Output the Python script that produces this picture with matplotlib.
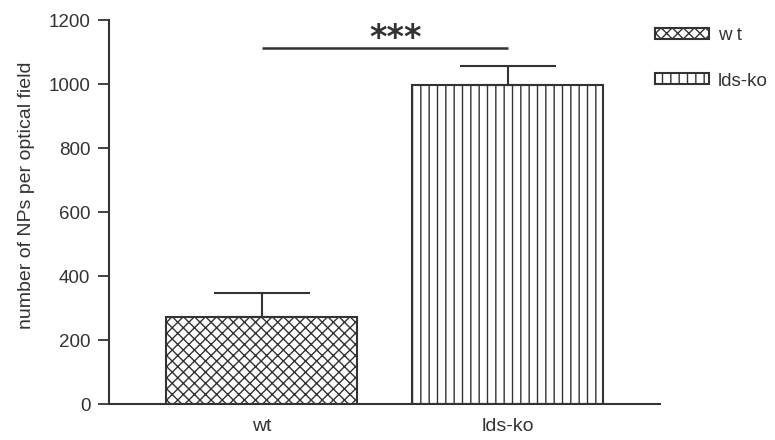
import matplotlib.pyplot as plt

# data
groups = ['wt', 'lds-ko']
legend_labels = ['w t', 'lds-ko']
means = [272, 997]
sem_upper = [75, 59]
sig_level = 1112
sig_text = '***'
y_ticks = [0, 200, 400, 600, 800, 1000, 1200]

INK = '#333333'

plt.rcParams['font.family'] = ['Liberation Sans', 'DejaVu Sans']
plt.rcParams['hatch.linewidth'] = 1.0
plt.rcParams['hatch.color'] = INK

fig = plt.figure(figsize=(7.75, 4.4), dpi=100)
ax = fig.add_axes([109 / 775, 1 - 404 / 440, (660 - 109) / 775, 384 / 440])

x = list(range(len(groups)))
hatches = ['xxx', '||']
bars = ax.bar(x, means, width=0.775, color='white', edgecolor=INK,
              linewidth=1.5, zorder=2)
for b, h, lab in zip(bars, hatches, legend_labels):
    b.set_hatch(h)
    b.set_label(lab)

# only the upper half of the error bar is drawn
ax.errorbar(x, means, yerr=[[0] * len(means), sem_upper], fmt='none',
            ecolor=INK, elinewidth=1.5, capsize=34.5, capthick=1.5, zorder=3)

# significance bracket
ax.plot([x[0], x[1]], [sig_level, sig_level], color=INK, lw=1.8,
        solid_capstyle='butt', zorder=3)
ax.text(0.544, sig_level - 1, sig_text, ha='center', va='baseline',
        fontsize=24, fontweight='bold', family='DejaVu Sans', color=INK)

ax.set_xlim(-0.619, 1.617)
ax.set_ylim(0, 1200)
ax.set_yticks(y_ticks)
ax.set_xticks(x)
ax.set_xticklabels(groups)
ax.tick_params(axis='y', direction='out', length=8, width=1.3, colors=INK,
               labelsize=13.5, pad=5.5)
ax.tick_params(axis='x', length=0, labelsize=14, colors=INK, pad=10)
for side in ['top', 'right']:
    ax.spines[side].set_visible(False)
for side in ['left', 'bottom']:
    ax.spines[side].set_linewidth(1.5)
    ax.spines[side].set_color(INK)
ax.set_ylabel('number of NPs per optical field', fontsize=14, color=INK)
ax.yaxis.set_label_coords(-0.134, 0.544)

fig.legend(handles=list(bars), labels=legend_labels, loc='upper left',
           bbox_to_anchor=(655 / 775, 1 - 27 / 440), frameon=False,
           fontsize=13.5, handlelength=2.9, handleheight=0.5, handletextpad=0.45,
           labelspacing=1.52, borderpad=0, borderaxespad=0, labelcolor=INK)

fig.savefig('out.png', dpi=100)
